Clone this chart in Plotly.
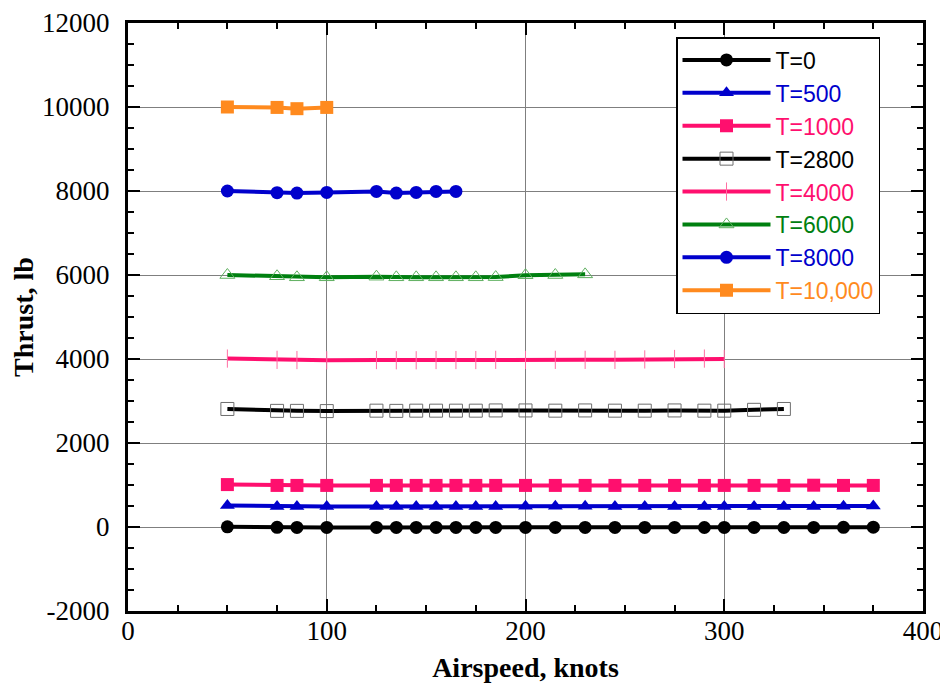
import plotly.graph_objects as go

# ---- data ----
x_full = [50, 75, 85, 100, 125, 135, 145, 155, 165, 175, 185, 200, 215, 230,
          245, 260, 275, 290, 300, 315, 330, 345, 360, 375]

x_t0 = x_full
y_t0 = [5, -8, -10, -10, -10, -10, -10, -10, -10, -10, -10, -10, -10, -10,
        -10, -10, -10, -12, -10, -10, -12, -10, -8, -5]

x_t500 = x_full
y_t500 = [510, 490, 490, 490, 490, 490, 490, 490, 490, 490, 490, 495, 495, 495,
          490, 490, 490, 490, 490, 490, 490, 490, 495, 500]

x_t1000 = x_full
y_t1000 = [1010, 990, 990, 990, 990, 990, 990, 990, 990, 990, 990, 990, 990, 990,
           990, 990, 990, 990, 990, 990, 990, 995, 990, 990]

x_t2800 = x_full[:21]
y_t2800 = [2810, 2765, 2765, 2760, 2770, 2765, 2770, 2770, 2770, 2770, 2775,
           2775, 2770, 2775, 2770, 2770, 2775, 2770, 2770, 2790, 2810]

x_t4000 = x_full[:19]
y_t4000 = [4010, 3980, 3975, 3970, 3975, 3970, 3970, 3975, 3975, 3975, 3980,
           3980, 3980, 3980, 3980, 3990, 4000, 4010, 4000]

x_t6000 = x_full[:14]
y_t6000 = [6000, 5970, 5945, 5945, 5960, 5945, 5945, 5945, 5945, 5945, 5950,
           5995, 6000, 6015]

x_t8000 = x_full[:9]
y_t8000 = [8000, 7960, 7950, 7965, 7990, 7950, 7965, 7990, 7990]

x_t10000 = x_full[:4]
y_t10000 = [10000, 9990, 9960, 9990]

names = ["T=0", "T=500", "T=1000", "T=2800", "T=4000", "T=6000", "T=8000", "T=10,000"]

x_tickvals = [0, 100, 200, 300, 400]
x_ticktext = ["0", "100", "200", "300", "400"]
y_tickvals = [-2000, 0, 2000, 4000, 6000, 8000, 10000, 12000]
y_ticktext = ["-2000", "0", "2000", "4000", "6000", "8000", "10000", "12000"]

BLACK = "#000000"
BLUE = "#0000CC"
PINK = "#FF0F6E"
GREEN = "#008010"
ORANGE = "#FF8A1E"

series = [
    (x_t0, y_t0, BLACK, dict(symbol="circle", size=13, color=BLACK)),
    (x_t500, y_t500, BLUE, dict(symbol="triangle-up", size=13, color=BLUE)),
    (x_t1000, y_t1000, PINK, dict(symbol="square", size=13, color=PINK)),
    (x_t2800, y_t2800, BLACK, dict(symbol="square-open", size=13, color="#6E6E6E",
                                   line=dict(width=1, color="#6E6E6E"))),
    (x_t4000, y_t4000, PINK, dict(symbol="line-ns-open", size=13, color="#FF6FA3",
                                  line=dict(width=1, color="#FF6FA3"))),
    (x_t6000, y_t6000, GREEN, dict(symbol="triangle-up-open", size=13, color="#5FB060",
                                   line=dict(width=1, color="#5FB060"))),
    (x_t8000, y_t8000, BLUE, dict(symbol="circle", size=13, color=BLUE)),
    (x_t10000, y_t10000, ORANGE, dict(symbol="square", size=13, color=ORANGE)),
]

fig = go.Figure()
for name, (xs, ys, col, mk) in zip(names, series):
    fig.add_trace(go.Scatter(
        x=xs, y=ys, mode="lines+markers",
        name='<span style="color:%s">%s</span>' % (col, name),
        line=dict(color=col, width=4),
        marker=mk,
    ))

tickfont = dict(family="Liberation Serif", size=27, color="black")
titlefont = dict(family="Liberation Serif", size=28, color="black", weight="bold")

# page body has an 8px margin, so the figure is drawn 8px in from the top-left
fig.update_layout(
    width=940, height=680,
    margin=dict(l=120, r=25, t=15, b=77, autoexpand=False),
    paper_bgcolor="white", plot_bgcolor="white",
    showlegend=True,
    legend=dict(
        x=(676 - 128) / 795, y=(611 - 37) / 588, xanchor="left", yanchor="top",
        bgcolor="white", bordercolor="black", borderwidth=1.5,
        font=dict(family="Liberation Sans, Arial, sans-serif", size=23, color="black"),
        tracegroupgap=0, itemwidth=88,
    ),
)
fig.update_xaxes(
    range=[0, 400], tickvals=x_tickvals, ticktext=x_ticktext, automargin=False,
    showgrid=True, gridcolor="#7F7F7F", gridwidth=1, zeroline=False,
    showline=True, linecolor="black", linewidth=3, mirror="allticks",
    ticks="inside", ticklen=12, tickwidth=2, tickcolor="black",
    minor=dict(dtick=25, tick0=0, ticks="inside", ticklen=6, tickwidth=2, tickcolor="black", showgrid=False),
    tickfont=tickfont, ticklabelstandoff=-6,
    title=dict(text="Airspeed, knots", font=titlefont, standoff=12),
)
fig.update_yaxes(
    range=[-2000, 12000], tickvals=y_tickvals, ticktext=y_ticktext, automargin=False,
    showgrid=True, gridcolor="#7F7F7F", gridwidth=1, zeroline=False,
    showline=True, linecolor="black", linewidth=3, mirror="allticks",
    ticks="inside", ticklen=12, tickwidth=2, tickcolor="black",
    minor=dict(dtick=500, tick0=0, ticks="inside", ticklen=6, tickwidth=2, tickcolor="black", showgrid=False),
    tickfont=tickfont, ticklabelstandoff=10,
    title=dict(text="Thrust, lb", font=titlefont, standoff=13),
)

fig.write_html("out.html")
